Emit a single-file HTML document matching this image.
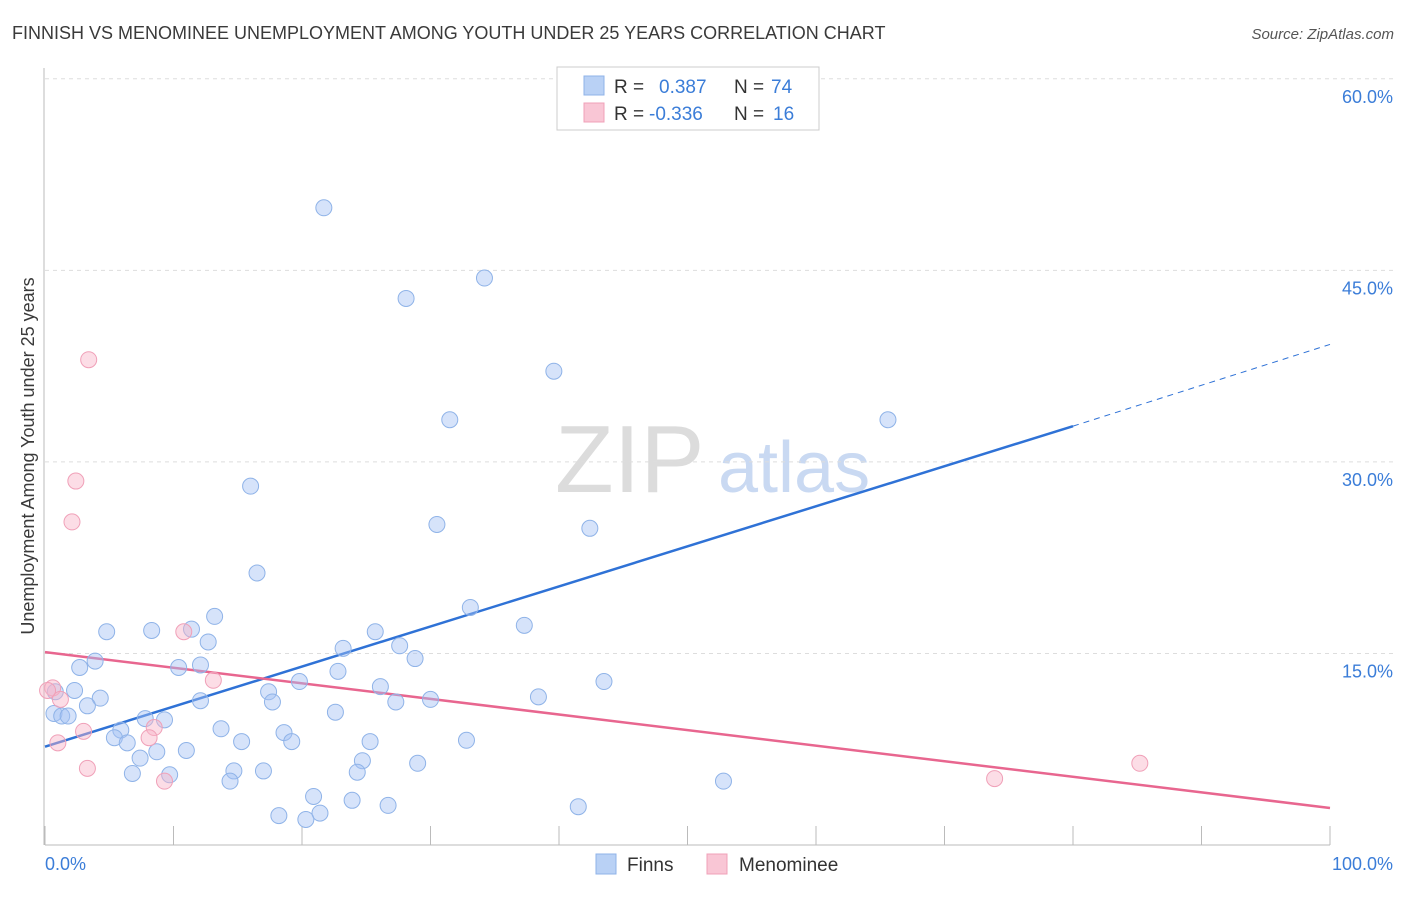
<!DOCTYPE html>
<html><head><meta charset="utf-8"><style>
body{margin:0;background:#fff;font-family:"Liberation Sans",sans-serif;}
svg text{font-family:"Liberation Sans",sans-serif;}
</style></head><body>
<svg id="chart" width="1406" height="892" xmlns="http://www.w3.org/2000/svg">
<text x="12" y="39" font-size="18" fill="#3a3a3a">FINNISH VS MENOMINEE UNEMPLOYMENT AMONG YOUTH UNDER 25 YEARS CORRELATION CHART</text>
<text x="1394" y="39" font-size="15" fill="#555" text-anchor="end" font-style="italic">Source: ZipAtlas.com</text>
<g>
<text x="555" y="492" font-size="96" fill="#dcdcdc" font-family="Liberation Serif,serif">ZIP</text>
<text x="718" y="492" font-size="72" fill="#c9d9f2">atlas</text>
</g>
<g id="grid"></g>
<g id="axes"></g>
<g id="trends"></g>
<g id="points"></g>
<text transform="translate(34,456) rotate(-90)" font-size="18" fill="#3a3a3a" text-anchor="middle">Unemployment Among Youth under 25 years</text>
<g>
<rect x="557" y="67" width="262" height="63" fill="#fff" stroke="#ccc"/>
<rect x="584" y="76" width="20" height="19" fill="#b9d1f5" stroke="#8fb3e8"/>
<rect x="584" y="103" width="20" height="19" fill="#f9c6d5" stroke="#f0a0b8"/>
<text x="614" y="93" font-size="19" fill="#333">R = </text><text x="659" y="93" font-size="19" fill="#3b7dd8">0.387</text>
<text x="734" y="93" font-size="19" fill="#333">N = </text><text x="771" y="93" font-size="19" fill="#3b7dd8">74</text>
<text x="614" y="120" font-size="19" fill="#333">R = </text><text x="649" y="120" font-size="19" fill="#3b7dd8">-0.336</text>
<text x="734" y="120" font-size="19" fill="#333">N = </text><text x="773" y="120" font-size="19" fill="#3b7dd8">16</text>
</g>
<g>
<rect x="596" y="854" width="20" height="20" fill="#b9d1f5" stroke="#8fb3e8"/>
<text x="627" y="871" font-size="19" fill="#333">Finns</text>
<rect x="707" y="854" width="20" height="20" fill="#f9c6d5" stroke="#f0a0b8"/>
<text x="739" y="871" font-size="19" fill="#333">Menominee</text>
</g>
</svg>
<script>
const finnsX=[21.7,34.2,28.1,39.6,31.5,65.6,16.0,30.5,42.4,16.5,33.1,37.3,13.2,4.8,8.3,11.4,12.7,25.7,23.2,27.6,28.8,3.9,2.7,10.4,12.1,22.8,2.3,4.3,0.8,3.3,12.1,17.4,17.7,19.8,26.1,27.3,30.0,38.4,43.5,0.7,1.3,1.8,7.8,9.3,22.6,5.9,13.7,5.4,6.4,18.6,15.3,19.2,25.3,32.8,7.4,8.7,11.0,24.7,29.0,6.8,9.7,14.7,17.0,24.3,14.4,52.8,20.9,23.9,26.7,41.5,18.2,21.4,20.3,49.8];
const finnsY=[49.9,44.4,42.8,37.1,33.3,33.3,28.1,25.1,24.8,21.3,18.6,17.2,17.9,16.7,16.8,16.9,15.9,16.7,15.4,15.6,14.6,14.4,13.9,13.9,14.1,13.6,12.1,11.5,12.0,10.9,11.3,12.0,11.2,12.8,12.4,11.2,11.4,11.6,12.8,10.3,10.1,10.1,9.9,9.8,10.4,9.0,9.1,8.4,8.0,8.8,8.1,8.1,8.1,8.2,6.8,7.3,7.4,6.6,6.4,5.6,5.5,5.8,5.8,5.7,5.0,5.0,3.8,3.5,3.1,3.0,2.3,2.5,2.0,57.3];
const menX=[3.4,2.4,2.1,10.8,0.6,0.2,1.2,13.1,3.0,1.0,8.5,8.1,3.3,9.3,73.9,85.2];
const menY=[38.0,28.5,25.3,16.7,12.3,12.1,11.4,12.9,8.9,8.0,9.2,8.4,6.0,5.0,5.2,6.4];
const finnsTrendX=[0,80,100];
const finnsTrendY=[7.7,32.8,39.2];
const menTrendX=[0,100];
const menTrendY=[15.1,2.9];
const yTicks=[15,30,45,60];
const yTickLabels=["15.0%","30.0%","45.0%","60.0%"];
const xTicks=[0,10,20,30,40,50,60,70,80,90,100];

const NS="http://www.w3.org/2000/svg";
const sx=v=>45+v*12.85;
const sy=v=>845-v*12.77;
function mk(tag,attrs,parent){const e=document.createElementNS(NS,tag);for(const k in attrs)e.setAttribute(k,attrs[k]);document.getElementById(parent).appendChild(e);return e;}
yTicks.forEach((t,i)=>{
 const l=mk('line',{x1:45,x2:1395,y1:sy(t),y2:sy(t),stroke:'#ddd','stroke-dasharray':'4,4'},'grid');
 
 
 const tx=mk('text',{x:1393,y:sy(t)+24,'font-size':18,fill:'#3b7dd8','text-anchor':'end'},'grid');
 tx.textContent=yTickLabels[i];
 
 
});
const ax=mk('line',{x1:45,x2:1330,y1:845,y2:845,stroke:'#bbb'},'axes');


const ay=mk('line',{x1:44,x2:44,y1:68,y2:845,stroke:'#bbb'},'axes');


xTicks.forEach(t=>{
 const l=mk('line',{x1:sx(t),x2:sx(t),y1:826,y2:845,stroke:'#bbb'},'axes');
 
 
});
const xl0=mk('text',{x:45,y:870,'font-size':18,fill:'#3b7dd8'},'axes');xl0.textContent=xTicks[0].toFixed(1)+'%';


const xl1=mk('text',{x:1393,y:870,'font-size':18,fill:'#3b7dd8','text-anchor':'end'},'axes');xl1.textContent=xTicks[xTicks.length-1].toFixed(1)+'%';



finnsX.forEach((x,i)=>{
 const c=mk('circle',{cx:sx(x),cy:sy(finnsY[i]),r:8,fill:'rgba(164,194,244,0.45)',stroke:'#8fb3e8','stroke-width':1},'points');
 
 
});
menX.forEach((x,i)=>{
 const c=mk('circle',{cx:sx(x),cy:sy(menY[i]),r:8,fill:'rgba(248,180,200,0.45)',stroke:'#f0a0b8','stroke-width':1},'points');
 
 
});
const b1=mk('line',{x1:sx(finnsTrendX[0]),y1:sy(finnsTrendY[0]),x2:sx(finnsTrendX[1]),y2:sy(finnsTrendY[1]),stroke:'#2f72d6','stroke-width':2.5},'trends');


const b2=mk('line',{x1:sx(finnsTrendX[1]),y1:sy(finnsTrendY[1]),x2:sx(finnsTrendX[2]),y2:sy(finnsTrendY[2]),stroke:'#2f72d6','stroke-width':1,'stroke-dasharray':'6,5'},'trends');


const p1=mk('line',{x1:sx(menTrendX[0]),y1:sy(menTrendY[0]),x2:sx(menTrendX[1]),y2:sy(menTrendY[1]),stroke:'#e8668f','stroke-width':2.5},'trends');


</script>
</body></html>
